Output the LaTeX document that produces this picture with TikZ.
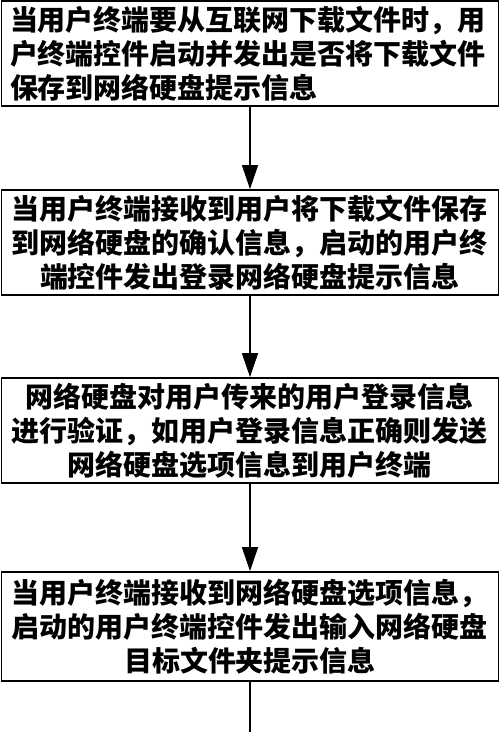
\documentclass[tikz,border=0pt]{standalone}
\usepackage{fontspec}
\newfontfamily\cjk{Noto Sans CJK SC}
\usetikzlibrary{arrows.meta}
\tikzset{
  stepbox/.style={draw, line width=1.3pt, minimum width=372.75pt, minimum height=78.75pt,
    text width=360pt, inner sep=0pt, font=\cjk\bfseries\fontsize{21pt}{25.5pt}\selectfont},
  flow/.style={line width=1pt, -{Triangle[length=18pt,width=12pt]}}
}
\begin{document}
\begin{tikzpicture}[x=0.75pt,y=0.75pt,yscale=-1,xscale=1]
\useasboundingbox (0,0) rectangle (500,732);

% Boxes
\node [stepbox, align=left] (ask) at (250,53.5) {当用户终端要从互联网下载文件时，用\\户终端控件启动并发出是否将下载文件\\保存到网络硬盘提示信息};
\node [stepbox, align=center] (login) at (250,242.5) {当用户终端接收到用户将下载文件保存\\到网络硬盘的确认信息，启动的用户终\\端控件发出登录网络硬盘提示信息};
\node [stepbox, align=center] (verify) at (250,430.5) {网络硬盘对用户传来的用户登录信息\\进行验证，如用户登录信息正确则发送\\网络硬盘选项信息到用户终端};
\node [stepbox, align=center, minimum height=81.75pt] (folder) at (250,626.5) {当用户终端接收到网络硬盘选项信息，\\启动的用户终端控件发出输入网络硬盘\\目标文件夹提示信息};
\coordinate (next) at (250,732);

% Arrows
\draw [flow] (ask) -- (login);
\draw [flow] (login) -- (verify);
\draw [flow] (verify) -- (folder);
\draw [line width=1pt] (folder) -- (next);
\end{tikzpicture}
\end{document}
